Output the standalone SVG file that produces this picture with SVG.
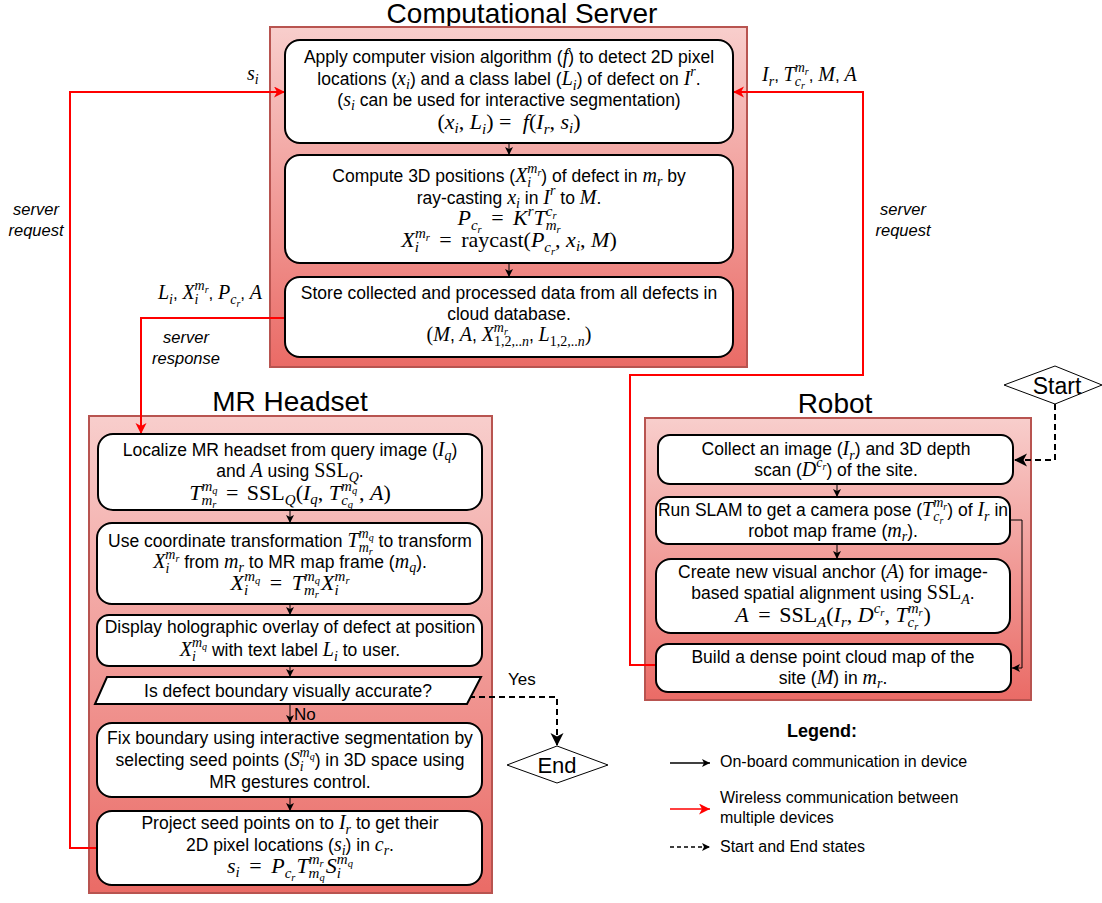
<svg xmlns="http://www.w3.org/2000/svg" width="1102" height="903" viewBox="0 0 1102 903">
  <style>
    .lbl{font-family:"Liberation Sans",Arial,sans-serif;font-size:17.5px;text-anchor:middle;fill:#000}
    .lbs{font-family:"Liberation Sans",Arial,sans-serif;font-size:17px;fill:#000}
    .it{font-family:"Liberation Sans",Arial,sans-serif;font-size:16.5px;font-style:italic;text-anchor:middle;fill:#000}
    .ttl{font-family:"Liberation Sans",Arial,sans-serif;font-size:28px;text-anchor:middle;fill:#000}
    .mi{font-family:"Liberation Serif","Times New Roman",serif;font-style:italic;font-size:20px}
    .mu{font-family:"Liberation Serif","Times New Roman",serif;font-style:normal;font-size:20px}
    .sb{font-family:"Liberation Serif","Times New Roman",serif;font-style:italic;font-size:14px}
    .su{font-family:"Liberation Serif","Times New Roman",serif;font-style:normal;font-size:14px}
    .ss{font-family:"Liberation Serif","Times New Roman",serif;font-style:italic;font-size:10px}
    /* display equations are set a little larger */
    .d .mi,.d .mu{font-size:22px}
    .d .sb,.d .su{font-size:15px}
    .d .ss{font-size:10.5px}
    .cont{stroke:#b85450;stroke-width:2;fill:url(#redgrad)}
    .box{fill:#fff;stroke:#000;stroke-width:2}
    .blk{fill:none;stroke:#000;stroke-width:1;marker-end:url(#ab)}
    .red{fill:none;stroke:#ff0000;stroke-width:2;marker-end:url(#ar)}
    .dash{fill:none;stroke:#000;stroke-width:2;stroke-dasharray:6 4;marker-end:url(#ad)}
    .dia{fill:#fff;stroke:#000;stroke-width:1}
    .leg{font-family:"Liberation Sans",Arial,sans-serif;font-size:16px;fill:#000}
  </style>
  <defs>
    <linearGradient id="redgrad" x1="0" y1="0" x2="0" y2="1">
      <stop offset="0" stop-color="#f8cecc"/>
      <stop offset="1" stop-color="#ea6b66"/>
    </linearGradient>
    <marker id="ab" markerUnits="userSpaceOnUse" markerWidth="9" markerHeight="9" refX="8" refY="4" orient="auto">
      <path d="M0,0 L8,4 L0,8 L2,4 z" fill="#000"/>
    </marker>
    <marker id="ar" markerUnits="userSpaceOnUse" markerWidth="12" markerHeight="12" refX="11" refY="5.5" orient="auto">
      <path d="M0,0 L11,5.5 L0,11 L3,5.5 z" fill="#ff0000"/>
    </marker>
    <marker id="ad" markerUnits="userSpaceOnUse" markerWidth="14" markerHeight="14" refX="13" refY="6.5" orient="auto">
      <path d="M0,0 L13,6.5 L0,13 L3.5,6.5 z" fill="#000"/>
    </marker>
  </defs>

  <!-- device containers -->
  <g id="server">
    <text class="ttl" x="522" y="23">Computational Server</text>
    <rect class="cont" x="270" y="27" width="477" height="340"/>
  </g>
  <g id="headset">
    <text class="ttl" x="290" y="411">MR Headset</text>
    <rect class="cont" x="89" y="416" width="403" height="477"/>
  </g>
  <g id="robot">
    <text class="ttl" x="835" y="413">Robot</text>
    <rect class="cont" x="645" y="418" width="386" height="282"/>
  </g>

  <!-- connectors -->
  <g id="connectors">
    <path class="blk" d="M509,143 V155"/>
    <path class="blk" d="M509,263 V277"/>
    <path class="blk" d="M290,510 V523"/>
    <path class="blk" d="M290,604 V615"/>
    <path class="blk" d="M290,666 V677"/>
    <path class="blk" d="M290,704 V723"/>
    <path class="blk" d="M290,797 V811"/>
    <path class="blk" d="M837,484 V497"/>
    <path class="blk" d="M837,544 V559"/>
    <path class="blk" d="M1010,520 H1022 V668 H1012"/>
    <path class="red" d="M97,848 H70 V92 H285"/>
    <path class="red" d="M285,318 H141 V434"/>
    <path class="red" d="M656,665 H630 V375 H863 V92 H733"/>
    <path class="dash" d="M1055,404 V460 H1014"/>
    <path class="dash" d="M469,697 H557 V746"/>
    <text class="lbs" x="294" y="720">No</text>
    <text class="lbs" x="508" y="685">Yes</text>
    <text class="lbs" x="247" y="80"><tspan class="mi">s</tspan><tspan class="sb" dy="4">i</tspan></text>
    <text class="it" x="36" y="215">server</text>
    <text class="it" x="36" y="236">request</text>
    <text class="lbs" x="262" y="299" text-anchor="end"><tspan class="mi">L</tspan><tspan class="sb" dy="5">i</tspan><tspan dy="-5">, </tspan><tspan class="mi">X</tspan><tspan class="sb" dy="5">i</tspan><tspan class="sb" dx="-4" dy="-14">m</tspan><tspan class="ss" dy="3">r</tspan><tspan dy="6">, </tspan><tspan class="mi">P</tspan><tspan class="sb" dy="5">c</tspan><tspan class="ss" dy="3">r</tspan><tspan dy="-8">, </tspan><tspan class="mi">A</tspan></text>
    <text class="it" x="186" y="343">server</text>
    <text class="it" x="186" y="364">response</text>
    <text class="lbs" x="762" y="81"><tspan class="mi">I</tspan><tspan class="sb" dy="5">r</tspan><tspan dy="-5">, </tspan><tspan class="mi">T</tspan><tspan class="sb" dy="-9">m</tspan><tspan class="ss" dy="3">r</tspan><tspan class="sb" dx="-14" dy="11">c</tspan><tspan class="ss" dy="3">r</tspan><tspan dx="4" dy="-8">, </tspan><tspan class="mi">M</tspan><tspan>, </tspan><tspan class="mi">A</tspan></text>
    <text class="it" x="903" y="215">server</text>
    <text class="it" x="903" y="236">request</text>
  </g>

  <!-- server steps -->
  <g id="srv-detect">
    <rect class="box" x="285" y="40" width="448" height="103" rx="15"/>
    <text class="lbl" x="509" y="63">Apply computer vision algorithm (<tspan class="mi">f</tspan>) to detect 2D pixel</text>
    <text class="lbl" x="509" y="85">locations (<tspan class="mi">x</tspan><tspan class="sb" dy="4">i</tspan><tspan dy="-4">) and a class label (</tspan><tspan class="mi">L</tspan><tspan class="sb" dy="5">i</tspan><tspan dy="-5">) of defect on </tspan><tspan class="mi">I</tspan><tspan class="sb" dy="-9">r</tspan><tspan dy="9">.</tspan></text>
    <text class="lbl" x="509" y="106">(<tspan class="mi">s</tspan><tspan class="sb" dy="4">i</tspan><tspan dy="-4"> can be used for interactive segmentation)</tspan></text>
    <text class="lbl d" x="509" y="129"><tspan class="mu">(</tspan><tspan class="mi">x</tspan><tspan class="sb" dy="4">i</tspan><tspan class="mu" dy="-4">, </tspan><tspan class="mi">L</tspan><tspan class="sb" dy="5">i</tspan><tspan class="mu" dy="-5">)  =  </tspan><tspan class="mi" dx="6">f</tspan><tspan class="mu">(</tspan><tspan class="mi">I</tspan><tspan class="sb" dy="5">r</tspan><tspan class="mu" dy="-5">, </tspan><tspan class="mi">s</tspan><tspan class="sb" dy="4">i</tspan><tspan class="mu" dy="-4">)</tspan></text>
  </g>
  <g id="srv-raycast">
    <rect class="box" x="285" y="155" width="448" height="108" rx="15"/>
    <text class="lbl" x="509" y="182">Compute 3D positions (<tspan class="mi">X</tspan><tspan class="sb" dy="5">i</tspan><tspan class="sb" dx="-4" dy="-14">m</tspan><tspan class="ss" dy="3">r</tspan><tspan dy="6">) of defect in </tspan><tspan class="mi">m</tspan><tspan class="sb" dy="4">r</tspan><tspan dy="-4"> by</tspan></text>
    <text class="lbl" x="509" y="204">ray-casting <tspan class="mi">x</tspan><tspan class="sb" dy="4">i</tspan><tspan dy="-4"> in </tspan><tspan class="mi">I</tspan><tspan class="sb" dy="-9">r</tspan><tspan dy="9"> to </tspan><tspan class="mi">M</tspan>.</text>
    <text class="lbl d" x="509" y="225"><tspan class="mi">P</tspan><tspan class="sb" dy="5">c</tspan><tspan class="ss" dy="3">r</tspan><tspan class="mu" dx="4" dy="-8"> = </tspan><tspan class="mi" dx="4">K</tspan><tspan class="sb" dy="-9">r</tspan><tspan class="mi" dy="9">T</tspan><tspan class="sb" dy="-9">c</tspan><tspan class="ss" dy="3">r</tspan><tspan class="sb" dx="-11" dy="11">m</tspan><tspan class="ss" dy="3">r</tspan></text>
    <text class="lbl d" x="509" y="247"><tspan class="mi">X</tspan><tspan class="sb" dy="5">i</tspan><tspan class="sb" dx="-4" dy="-14">m</tspan><tspan class="ss" dy="3">r</tspan><tspan class="mu" dx="4" dy="6"> = </tspan><tspan class="mu" dx="4">raycast(</tspan><tspan class="mi">P</tspan><tspan class="sb" dy="5">c</tspan><tspan class="ss" dy="3">r</tspan><tspan class="mu" dy="-8">, </tspan><tspan class="mi">x</tspan><tspan class="sb" dy="4">i</tspan><tspan class="mu" dy="-4">, </tspan><tspan class="mi">M</tspan><tspan class="mu">)</tspan></text>
  </g>
  <g id="srv-store">
    <rect class="box" x="285" y="277" width="448" height="80" rx="15"/>
    <text class="lbl" x="509" y="299">Store collected and processed data from all defects in</text>
    <text class="lbl" x="509" y="320">cloud database.</text>
    <text class="lbl" x="509" y="341"><tspan class="mu">(</tspan><tspan class="mi">M</tspan>, <tspan class="mi">A</tspan>, <tspan class="mi">X</tspan><tspan class="sb" dy="-9">m</tspan><tspan class="ss" dy="3">r</tspan><tspan class="su" dx="-14" dy="11">1,2,..</tspan><tspan class="sb">n</tspan><tspan dy="-5">, </tspan><tspan class="mi">L</tspan><tspan class="su" dy="5">1,2,..</tspan><tspan class="sb">n</tspan><tspan class="mu" dy="-5">)</tspan></text>
  </g>

  <!-- headset steps -->
  <g id="mr-localize">
    <rect class="box" x="98" y="434" width="384" height="76" rx="15"/>
    <text class="lbl" x="290" y="456">Localize MR headset from query image (<tspan class="mi">I</tspan><tspan class="sb" dy="4">q</tspan><tspan dy="-4">)</tspan></text>
    <text class="lbl" x="290" y="477">and <tspan class="mi">A</tspan> using <tspan class="mu">SSL</tspan><tspan class="sb" dy="5">Q</tspan><tspan dy="-5">.</tspan></text>
    <text class="lbl d" x="290" y="500"><tspan class="mi">T</tspan><tspan class="sb" dy="-9">m</tspan><tspan class="ss" dy="3">q</tspan><tspan class="sb" dx="-16" dy="11">m</tspan><tspan class="ss" dy="3">r</tspan><tspan class="mu" dx="4" dy="-8"> = </tspan><tspan class="mu" dx="3">SSL</tspan><tspan class="sb" dy="5">Q</tspan><tspan class="mu" dy="-5">(</tspan><tspan class="mi">I</tspan><tspan class="sb" dy="4">q</tspan><tspan class="mu" dy="-4">, </tspan><tspan class="mi">T</tspan><tspan class="sb" dy="-9">m</tspan><tspan class="ss" dy="3">q</tspan><tspan class="sb" dx="-16" dy="11">c</tspan><tspan class="ss" dy="3">q</tspan><tspan class="mu" dx="6" dy="-8">, </tspan><tspan class="mi">A</tspan><tspan class="mu">)</tspan></text>
  </g>
  <g id="mr-transform">
    <rect class="box" x="97" y="523" width="385" height="81" rx="15"/>
    <text class="lbl" x="290" y="547">Use coordinate transformation <tspan class="mi">T</tspan><tspan class="sb" dy="-9">m</tspan><tspan class="ss" dy="3">q</tspan><tspan class="sb" dx="-15" dy="11">m</tspan><tspan class="ss" dy="3">r</tspan><tspan dx="1" dy="-8"> to transform</tspan></text>
    <text class="lbl" x="290" y="568"><tspan class="mi">X</tspan><tspan class="sb" dy="5">i</tspan><tspan class="sb" dx="-4" dy="-14">m</tspan><tspan class="ss" dy="3">r</tspan><tspan dy="6"> from </tspan><tspan class="mi">m</tspan><tspan class="sb" dy="4">r</tspan><tspan dy="-4"> to MR map frame (</tspan><tspan class="mi">m</tspan><tspan class="sb" dy="4">q</tspan><tspan dy="-4">).</tspan></text>
    <text class="lbl d" x="290" y="590"><tspan class="mi">X</tspan><tspan class="sb" dy="5">i</tspan><tspan class="sb" dx="-4" dy="-14">m</tspan><tspan class="ss" dy="3">q</tspan><tspan class="mu" dx="4" dy="6"> = </tspan><tspan class="mi" dx="4">T</tspan><tspan class="sb" dy="-9">m</tspan><tspan class="ss" dy="3">q</tspan><tspan class="sb" dx="-16" dy="11">m</tspan><tspan class="ss" dy="3">r</tspan><tspan class="mi" dx="2" dy="-8">X</tspan><tspan class="sb" dy="5">i</tspan><tspan class="sb" dx="-4" dy="-14">m</tspan><tspan class="ss" dy="3">r</tspan></text>
  </g>
  <g id="mr-display">
    <rect class="box" x="97" y="615" width="385" height="51" rx="12"/>
    <text class="lbl" x="290" y="633">Display holographic overlay of defect at position</text>
    <text class="lbl" x="290" y="656"><tspan class="mi">X</tspan><tspan class="sb" dy="5">i</tspan><tspan class="sb" dx="-4" dy="-14">m</tspan><tspan class="ss" dy="3">q</tspan><tspan dy="6"> with text label </tspan><tspan class="mi">L</tspan><tspan class="sb" dy="5">i</tspan><tspan dy="-5"> to user.</tspan></text>
  </g>
  <g id="mr-check">
    <polygon class="box" points="107,677 481,677 467,704 95,704"/>
    <text class="lbl" x="288" y="697">Is defect boundary visually accurate?</text>
  </g>
  <g id="mr-fix">
    <rect class="box" x="97" y="723" width="385" height="74" rx="15"/>
    <text class="lbl" x="290" y="744">Fix boundary using interactive segmentation by</text>
    <text class="lbl" x="290" y="766">selecting seed points (<tspan class="mi">S</tspan><tspan class="sb" dy="5">i</tspan><tspan class="sb" dx="-4" dy="-14">m</tspan><tspan class="ss" dy="3">q</tspan><tspan dy="6">) in 3D space using</tspan></text>
    <text class="lbl" x="290" y="788">MR gestures control.</text>
  </g>
  <g id="mr-project">
    <rect class="box" x="97" y="811" width="385" height="74" rx="15"/>
    <text class="lbl" x="290" y="829">Project seed points on to <tspan class="mi">I</tspan><tspan class="sb" dy="5">r</tspan><tspan dy="-5"> to get their</tspan></text>
    <text class="lbl" x="290" y="851">2D pixel locations (<tspan class="mi">s</tspan><tspan class="sb" dy="4">i</tspan><tspan dy="-4">) in </tspan><tspan class="mi">c</tspan><tspan class="sb" dy="4">r</tspan><tspan dy="-4">.</tspan></text>
    <text class="lbl d" x="290" y="873"><tspan class="mi">s</tspan><tspan class="sb" dy="4">i</tspan><tspan class="mu" dx="4" dy="-4"> = </tspan><tspan class="mi" dx="4">P</tspan><tspan class="sb" dy="5">c</tspan><tspan class="ss" dy="3">r</tspan><tspan class="mi" dx="1" dy="-8">T</tspan><tspan class="sb" dy="-9">m</tspan><tspan class="ss" dy="3">r</tspan><tspan class="sb" dx="-15" dy="11">m</tspan><tspan class="ss" dy="3">q</tspan><tspan class="mi" dx="1" dy="-8">S</tspan><tspan class="sb" dy="5">i</tspan><tspan class="sb" dx="-4" dy="-14">m</tspan><tspan class="ss" dy="3">q</tspan></text>
  </g>

  <!-- robot steps -->
  <g id="rb-collect">
    <rect class="box" x="658" y="435" width="355" height="49" rx="12"/>
    <text class="lbl" x="836" y="455">Collect an image (<tspan class="mi">I</tspan><tspan class="sb" dy="5">r</tspan><tspan dy="-5">) and 3D depth</tspan></text>
    <text class="lbl" x="836" y="476">scan (<tspan class="mi">D</tspan><tspan class="sb" dy="-9">c</tspan><tspan class="ss" dy="3">r</tspan><tspan dy="6">) of the site.</tspan></text>
  </g>
  <g id="rb-slam">
    <rect class="box" x="656" y="497" width="354" height="47" rx="12"/>
    <text class="lbl" x="833" y="516" textLength="350" lengthAdjust="spacingAndGlyphs">Run SLAM to get a camera pose (<tspan class="mi">T</tspan><tspan class="sb" dy="-9">m</tspan><tspan class="ss" dy="3">r</tspan><tspan class="sb" dx="-14" dy="11">c</tspan><tspan class="ss" dy="3">r</tspan><tspan dx="4" dy="-8">) of </tspan><tspan class="mi">I</tspan><tspan class="sb" dy="5">r</tspan><tspan dy="-5"> in</tspan></text>
    <text class="lbl" x="833" y="537">robot map frame (<tspan class="mi">m</tspan><tspan class="sb" dy="4">r</tspan><tspan dy="-4">).</tspan></text>
  </g>
  <g id="rb-anchor">
    <rect class="box" x="656" y="559" width="354" height="74" rx="15"/>
    <text class="lbl" x="833" y="578">Create new visual anchor (<tspan class="mi">A</tspan>) for image-</text>
    <text class="lbl" x="833" y="599">based spatial alignment using <tspan class="mu">SSL</tspan><tspan class="sb" dy="5">A</tspan><tspan dy="-5">.</tspan></text>
    <text class="lbl d" x="833" y="622"><tspan class="mi">A</tspan><tspan class="mu" dx="4"> = </tspan><tspan class="mu" dx="3">SSL</tspan><tspan class="sb" dy="5">A</tspan><tspan class="mu" dy="-5">(</tspan><tspan class="mi">I</tspan><tspan class="sb" dy="5">r</tspan><tspan class="mu" dy="-5">, </tspan><tspan class="mi">D</tspan><tspan class="sb" dy="-9">c</tspan><tspan class="ss" dy="3">r</tspan><tspan class="mu" dy="6">, </tspan><tspan class="mi">T</tspan><tspan class="sb" dy="-9">m</tspan><tspan class="ss" dy="3">r</tspan><tspan class="sb" dx="-15" dy="11">c</tspan><tspan class="ss" dy="3">r</tspan><tspan class="mu" dx="5" dy="-8">)</tspan></text>
  </g>
  <g id="rb-map">
    <rect class="box" x="656" y="644" width="355" height="48" rx="12"/>
    <text class="lbl" x="833" y="663">Build a dense point cloud map of the</text>
    <text class="lbl" x="833" y="684">site (<tspan class="mi">M</tspan>) in <tspan class="mi">m</tspan><tspan class="sb" dy="4">r</tspan><tspan dy="-4">.</tspan></text>
  </g>

  <!-- terminal states -->
  <g id="start">
    <polygon class="dia" points="1055,366 1102,385 1055,404 1004,385"/>
    <text class="lbl" x="1057" y="394" style="font-size:23px">Start</text>
  </g>
  <g id="end">
    <polygon class="dia" points="557,746 608,765 557,783 507,765"/>
    <text class="lbl" x="557" y="773" style="font-size:22px">End</text>
  </g>

  <!-- legend -->
  <g id="legend">
    <text class="lbl" x="822" y="737" style="font-weight:bold;font-size:18px">Legend:</text>
    <path class="blk" d="M670,763 H710" style="stroke-width:1.5"/>
    <text class="leg" x="720" y="767">On-board communication in device</text>
    <path d="M670,809 H710" style="fill:none;stroke:#ff0000;stroke-width:1.5;marker-end:url(#ar)"/>
    <text class="leg" x="720" y="803">Wireless communication between</text>
    <text class="leg" x="720" y="823">multiple devices</text>
    <path d="M670,847 H710" style="fill:none;stroke:#000;stroke-width:1.5;stroke-dasharray:4 3;marker-end:url(#ab)"/>
    <text class="leg" x="720" y="852">Start and End states</text>
  </g>
</svg>
